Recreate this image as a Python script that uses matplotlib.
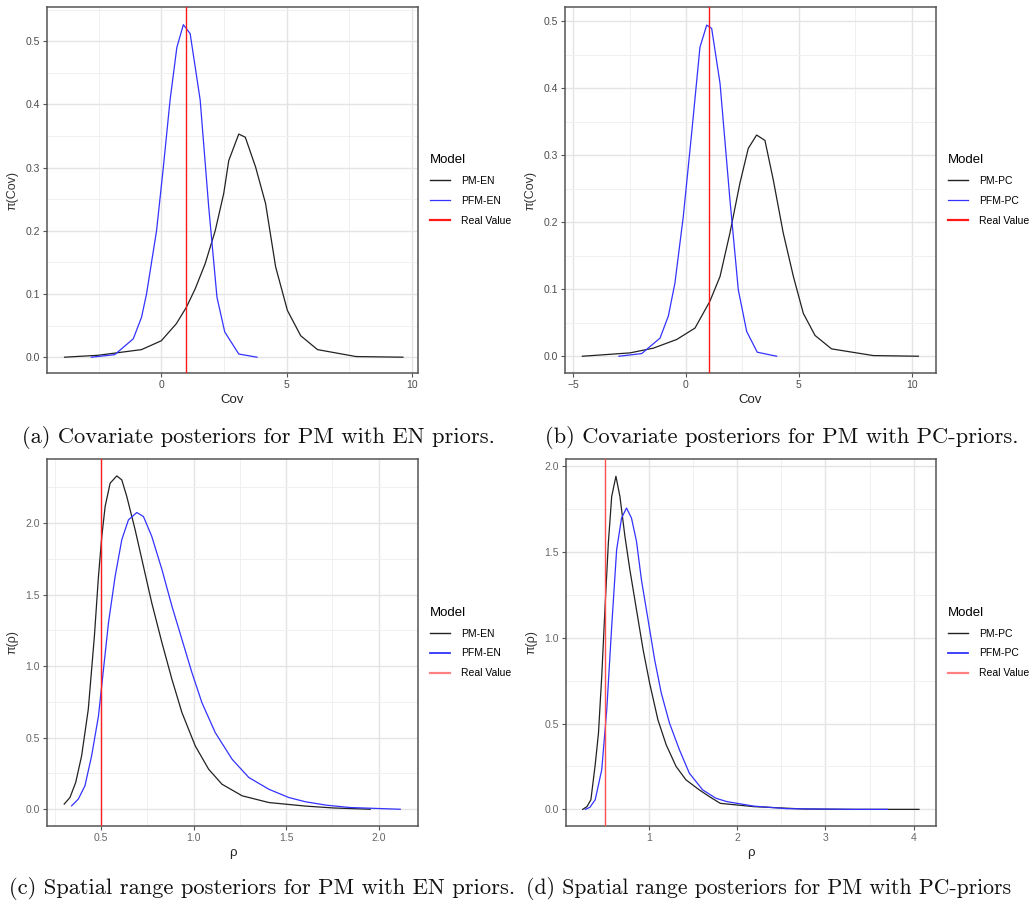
import matplotlib
matplotlib.use("Agg")
import matplotlib.pyplot as plt
from matplotlib.ticker import MultipleLocator
from matplotlib.lines import Line2D

plt.rcParams['font.family'] = ['Liberation Sans', 'DejaVu Sans']

# ---------------- data ----------------
# (a) covariate, EN priors
a_pm_x = [-3.86, -2.53, -0.79, 0.0, 0.6, 1.0, 1.35, 1.75, 2.15, 2.49, 2.69, 3.09, 3.35, 3.76, 4.16, 4.56, 5.03, 5.56, 6.23, 7.77, 9.64]
a_pm_y = [0.0, 0.003, 0.012, 0.026, 0.053, 0.079, 0.108, 0.148, 0.2, 0.259, 0.311, 0.353, 0.348, 0.301, 0.243, 0.143, 0.074, 0.034, 0.012, 0.001, 0.0]
a_pfm_x = [-2.79, -1.86, -1.12, -0.79, -0.59, -0.19, 0.08, 0.35, 0.62, 0.88, 1.15, 1.55, 1.89, 2.22, 2.53, 3.09, 3.82]
a_pfm_y = [0.0, 0.004, 0.029, 0.063, 0.1, 0.2, 0.3, 0.407, 0.49, 0.526, 0.512, 0.407, 0.238, 0.095, 0.04, 0.005, 0.0]
a_real = 1.0

# (b) covariate, PC priors
b_pm_x = [-4.59, -2.48, -1.45, -0.41, 0.4, 1.06, 1.51, 1.95, 2.39, 2.76, 3.13, 3.5, 3.87, 4.31, 4.76, 5.2, 5.72, 6.45, 8.3, 10.3]
b_pm_y = [0.0, 0.005, 0.012, 0.025, 0.042, 0.082, 0.119, 0.184, 0.258, 0.31, 0.33, 0.322, 0.263, 0.184, 0.119, 0.064, 0.031, 0.011, 0.001, 0.0]
b_pfm_x = [-2.97, -1.96, -1.15, -0.78, -0.49, -0.12, 0.25, 0.62, 0.92, 1.14, 1.51, 1.95, 2.32, 2.69, 3.16, 4.02]
b_pfm_y = [0.0, 0.004, 0.027, 0.06, 0.109, 0.208, 0.332, 0.461, 0.494, 0.489, 0.407, 0.233, 0.099, 0.037, 0.006, 0.0]
b_real = 1.0

# (c) spatial range, EN priors
c_pm_x = [0.301, 0.332, 0.363, 0.395, 0.431, 0.464, 0.486, 0.504, 0.522, 0.549, 0.585, 0.612, 0.639, 0.684,
          0.729, 0.774, 0.829, 0.883, 0.937, 1.009, 1.081, 1.153, 1.262, 1.406, 1.605, 1.756, 1.954]
c_pm_y = [0.036, 0.082, 0.187, 0.373, 0.698, 1.209, 1.627, 1.906, 2.115, 2.278, 2.329, 2.301, 2.185, 1.953,
          1.697, 1.441, 1.163, 0.907, 0.675, 0.442, 0.280, 0.175, 0.094, 0.047, 0.022, 0.009, 0.0]
c_pfm_x = [0.341, 0.377, 0.413, 0.449, 0.486, 0.513, 0.540, 0.576, 0.612, 0.648, 0.693, 0.729, 0.774, 0.829,
           0.883, 0.937, 0.991, 1.045, 1.117, 1.208, 1.298, 1.406, 1.514, 1.605, 1.720, 1.846, 2.116]
c_pfm_y = [0.024, 0.071, 0.164, 0.373, 0.651, 0.977, 1.302, 1.627, 1.883, 2.022, 2.073, 2.045, 1.906, 1.674,
           1.418, 1.186, 0.954, 0.744, 0.535, 0.349, 0.222, 0.140, 0.082, 0.052, 0.028, 0.012, 0.0]
c_real = 0.5

# (d) spatial range, PC priors
d_pm_x = [0.248, 0.297, 0.341, 0.390, 0.427, 0.464, 0.502, 0.539, 0.577, 0.625, 0.670, 0.727, 0.783, 0.858,
          0.933, 1.007, 1.101, 1.195, 1.307, 1.419, 1.569, 1.682, 1.808, 2.186, 2.753, 3.32, 4.06]
d_pm_y = [0.0, 0.016, 0.056, 0.260, 0.444, 0.775, 1.183, 1.553, 1.825, 1.942, 1.825, 1.592, 1.397, 1.164,
          0.931, 0.736, 0.522, 0.376, 0.250, 0.172, 0.114, 0.075, 0.035, 0.016, 0.002, 0.0, 0.0]
d_pfm_x = [0.278, 0.330, 0.390, 0.464, 0.521, 0.577, 0.633, 0.689, 0.745, 0.801, 0.858, 0.914, 0.989, 1.064,
           1.139, 1.232, 1.345, 1.457, 1.607, 1.757, 1.884, 2.186, 2.564, 3.32, 3.70]
d_pfm_y = [0.0, 0.012, 0.056, 0.231, 0.581, 1.067, 1.514, 1.699, 1.757, 1.699, 1.563, 1.339, 1.106, 0.872,
           0.678, 0.503, 0.347, 0.211, 0.114, 0.065, 0.045, 0.019, 0.004, 0.0, 0.0]
d_real = 0.5

captions = ["(a) Covariate posteriors for PM with EN priors.",
            "(b) Covariate posteriors for PM with PC-priors.",
            "(c) Spatial range posteriors for PM with EN priors.",
            "(d) Spatial range posteriors for PM with PC-priors"]
legend_a = ["PM-EN", "PFM-EN", "Real Value"]
legend_b = ["PM-PC", "PFM-PC", "Real Value"]

W, H = 1030, 905
fig = plt.figure(figsize=(W / 100, H / 100), dpi=100)


def add_ax(l, r, t, b):
    return fig.add_axes([l / W, 1 - b / H, (r - l) / W, (b - t) / H])


BLUE = "#3333ff"
BLACK = "#222222"


def style(ax, xlim, ylim, xmaj, xmin, ymaj, ymin, xlabel, ylabel, tickcol):
    ax.set_xlim(*xlim)
    ax.set_ylim(*ylim)
    ax.xaxis.set_major_locator(MultipleLocator(xmaj))
    ax.xaxis.set_minor_locator(MultipleLocator(xmin))
    ax.yaxis.set_major_locator(MultipleLocator(ymaj))
    ax.yaxis.set_minor_locator(MultipleLocator(ymin))
    ax.grid(True, which='major', color='#e4e4e4', lw=1.0, zorder=0)
    ax.grid(True, which='minor', color='#f0f0f0', lw=0.7, zorder=0)
    ax.set_axisbelow(True)
    for s in ax.spines.values():
        s.set_color('#555555')
        s.set_linewidth(1.1)
    ax.tick_params(which='major', length=3, width=0.8, color='#555555',
                   labelsize=7.5, labelcolor=tickcol, pad=2)
    ax.tick_params(which='minor', length=0)
    ax.set_xlabel(xlabel, fontsize=9.5, color='#222222', labelpad=3)
    ax.set_ylabel(ylabel, fontsize=9, color='#333333', labelpad=5)


def legend(ax, labels, red_col, blue_lw):
    handles = [Line2D([], [], color=BLACK, lw=1.0),
               Line2D([], [], color=BLUE, lw=blue_lw),
               Line2D([], [], color=red_col, lw=1.6)]
    lg = ax.legend(handles, labels, title="Model", loc='center left',
                   bbox_to_anchor=(1.02, 0.5), frameon=False, fontsize=7.5,
                   title_fontsize=9.5, handlelength=2.0, handletextpad=1.0,
                   labelspacing=0.95, borderaxespad=0.0)
    lg._legend_box.align = "left"
    return lg


def fmt1(ax):
    ax.set_yticklabels([f"{v:.1f}" for v in ax.get_yticks()])


# (a)
ax = add_ax(47, 418, 7, 373)
ax.plot(a_pm_x, a_pm_y, color=BLACK, lw=0.9, zorder=3)
ax.plot(a_pfm_x, a_pfm_y, color=BLUE, lw=0.9, zorder=3)
ax.axvline(a_real, color='#ff1a1a', lw=1.0, zorder=4)
style(ax, (-4.56, 10.24), (-0.025, 0.554), 5, 2.5, 0.1, 0.05, "Cov", "π(Cov)", '#4d4d4d')
ax.set_xticks([0, 5, 10])
ax.set_yticks([0, 0.1, 0.2, 0.3, 0.4, 0.5]); fmt1(ax)
legend(ax, legend_a, '#ff1a1a', 0.9)

# (b)
ax = add_ax(565, 936, 7, 373)
ax.plot(b_pm_x, b_pm_y, color=BLACK, lw=0.9, zorder=3)
ax.plot(b_pfm_x, b_pfm_y, color=BLUE, lw=0.9, zorder=3)
ax.axvline(b_real, color='#ff1a1a', lw=1.0, zorder=4)
style(ax, (-5.36, 11.08), (-0.025, 0.521), 5, 2.5, 0.1, 0.05, "Cov", "π(Cov)", '#4d4d4d')
ax.set_xticks([-5, 0, 5, 10])
ax.set_yticks([0, 0.1, 0.2, 0.3, 0.4, 0.5]); fmt1(ax)
legend(ax, legend_b, '#ff1a1a', 0.9)

# (c)
ax = add_ax(47, 418, 459, 826)
ax.plot(c_pm_x, c_pm_y, color=BLACK, lw=0.9, zorder=3)
ax.plot(c_pfm_x, c_pfm_y, color=BLUE, lw=0.9, zorder=3)
ax.axvline(c_real, color='#ff2020', lw=1.0, zorder=4)
style(ax, (0.208, 2.212), (-0.117, 2.447), 0.5, 0.25, 0.5, 0.25, "ρ", "π(ρ)", '#666666')
ax.set_xticks([0.5, 1.0, 1.5, 2.0]); ax.set_xticklabels(["0.5", "1.0", "1.5", "2.0"])
ax.set_yticks([0, 0.5, 1.0, 1.5, 2.0]); fmt1(ax)
legend(ax, legend_a, '#ff8080', 1.3)

# (d)
ax = add_ax(566, 936, 459, 826)
ax.plot(d_pm_x, d_pm_y, color=BLACK, lw=0.9, zorder=3)
ax.plot(d_pfm_x, d_pfm_y, color=BLUE, lw=0.9, zorder=3)
ax.axvline(d_real, color='#ff5050', lw=1.0, zorder=4)
style(ax, (0.059, 4.253), (-0.097, 2.043), 1, 0.5, 0.5, 0.25, "ρ", "π(ρ)", '#666666')
ax.set_xticks([1, 2, 3, 4])
ax.set_yticks([0, 0.5, 1.0, 1.5, 2.0]); fmt1(ax)
legend(ax, legend_b, '#ff8080', 1.3)

# captions
cap_kw = dict(family=['cmr10', 'DejaVu Serif'], ha='left', va='center', color='#111111')
fig.text(22 / W, 1 - 437 / H, captions[0], fontsize=16.2, **cap_kw)
fig.text(545 / W, 1 - 437 / H, captions[1], fontsize=16.2, **cap_kw)
fig.text(9 / W, 1 - 888 / H, captions[2], fontsize=16.2, **cap_kw)
fig.text(526 / W, 1 - 888 / H, captions[3], fontsize=15.6, **cap_kw)

fig.savefig("out.png", dpi=100, facecolor='white')
